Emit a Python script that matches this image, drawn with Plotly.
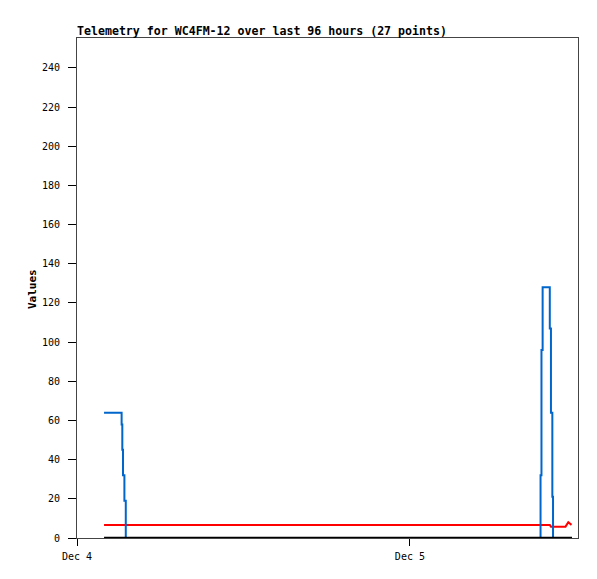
import plotly.graph_objects as go

# Data (times on Dec 4-5)
blue_t = ["2024-12-04 01:57", "2024-12-04 03:13", "2024-12-04 03:16", "2024-12-04 03:19",
          "2024-12-04 03:25", "2024-12-04 03:31", "2024-12-05 09:25", "2024-12-05 09:29",
          "2024-12-05 09:34", "2024-12-05 10:05", "2024-12-05 10:10", "2024-12-05 10:16",
          "2024-12-05 10:19", "2024-12-05 11:41"]
blue_v = [64, 58, 45, 32, 19, 0, 32, 96, 128, 107, 64, 21, 0, 0]

red_t = ["2024-12-04 01:57", "2024-12-05 10:05", "2024-12-05 10:10", "2024-12-05 11:13",
         "2024-12-05 11:25", "2024-12-05 11:39"]
red_v = [6.7, 6.7, 5.8, 5.8, 8.0, 6.7]

black_t = ["2024-12-04 01:57", "2024-12-05 11:41"]
black_v = [0, 0]

y_ticks = list(range(0, 241, 20))
title_text = "Telemetry for WC4FM-12 over last 96 hours (27 points)"
y_title = "Values"

fig = go.Figure()
fig.add_trace(go.Scatter(x=red_t, y=red_v, mode="lines",
                         line=dict(color="#ff0000", width=2), showlegend=False))
fig.add_trace(go.Scatter(x=blue_t, y=blue_v, mode="lines", line_shape="hv",
                         line=dict(color="#0066cc", width=2), showlegend=False))
fig.add_trace(go.Scatter(x=black_t, y=black_v, mode="lines",
                         line=dict(color="#000000", width=2.5), showlegend=False))

mono = "DejaVu Sans Mono"
W, H = 589, 571
L, R, T, B = 69, 19, 30, 41
fig.update_layout(
    width=W, height=H,
    margin=dict(l=L, r=R, t=T, b=B),
    paper_bgcolor="white", plot_bgcolor="white",
    font=dict(family=mono, size=10, color="black"),
    title=dict(text="<b>" + title_text + "</b>", x=L / W, xanchor="left",
               y=1 - 23 / H, yanchor="middle",
               font=dict(family=mono, size=11.6, color="black")),
    xaxis=dict(range=["2024-12-04 00:00", "2024-12-05 12:07"], type="date",
               dtick=86400000, tick0="2024-12-04", tickformat="%b %-d",
               showgrid=False, zeroline=False, showline=True, mirror=True,
               linecolor="#444444", linewidth=1, ticks="outside", ticklen=7,
               tickcolor="black", ticklabelstandoff=2, automargin=False),
    yaxis=dict(range=[0, 255.3], tickvals=y_ticks,
               showgrid=False, zeroline=False, showline=True, mirror=True,
               linecolor="#444444", linewidth=1, ticks="outside", ticklen=8,
               tickcolor="black", ticklabelstandoff=6, automargin=False),
    annotations=[dict(text="<b>" + y_title + "</b>", xref="paper", yref="paper",
                      x=(32 - 77) / 501, y=(538 - 289) / 500, xanchor="center",
                      yanchor="middle", textangle=-90, showarrow=False,
                      font=dict(family=mono, size=11, color="black"))],
)

fig.write_html("out.html")
